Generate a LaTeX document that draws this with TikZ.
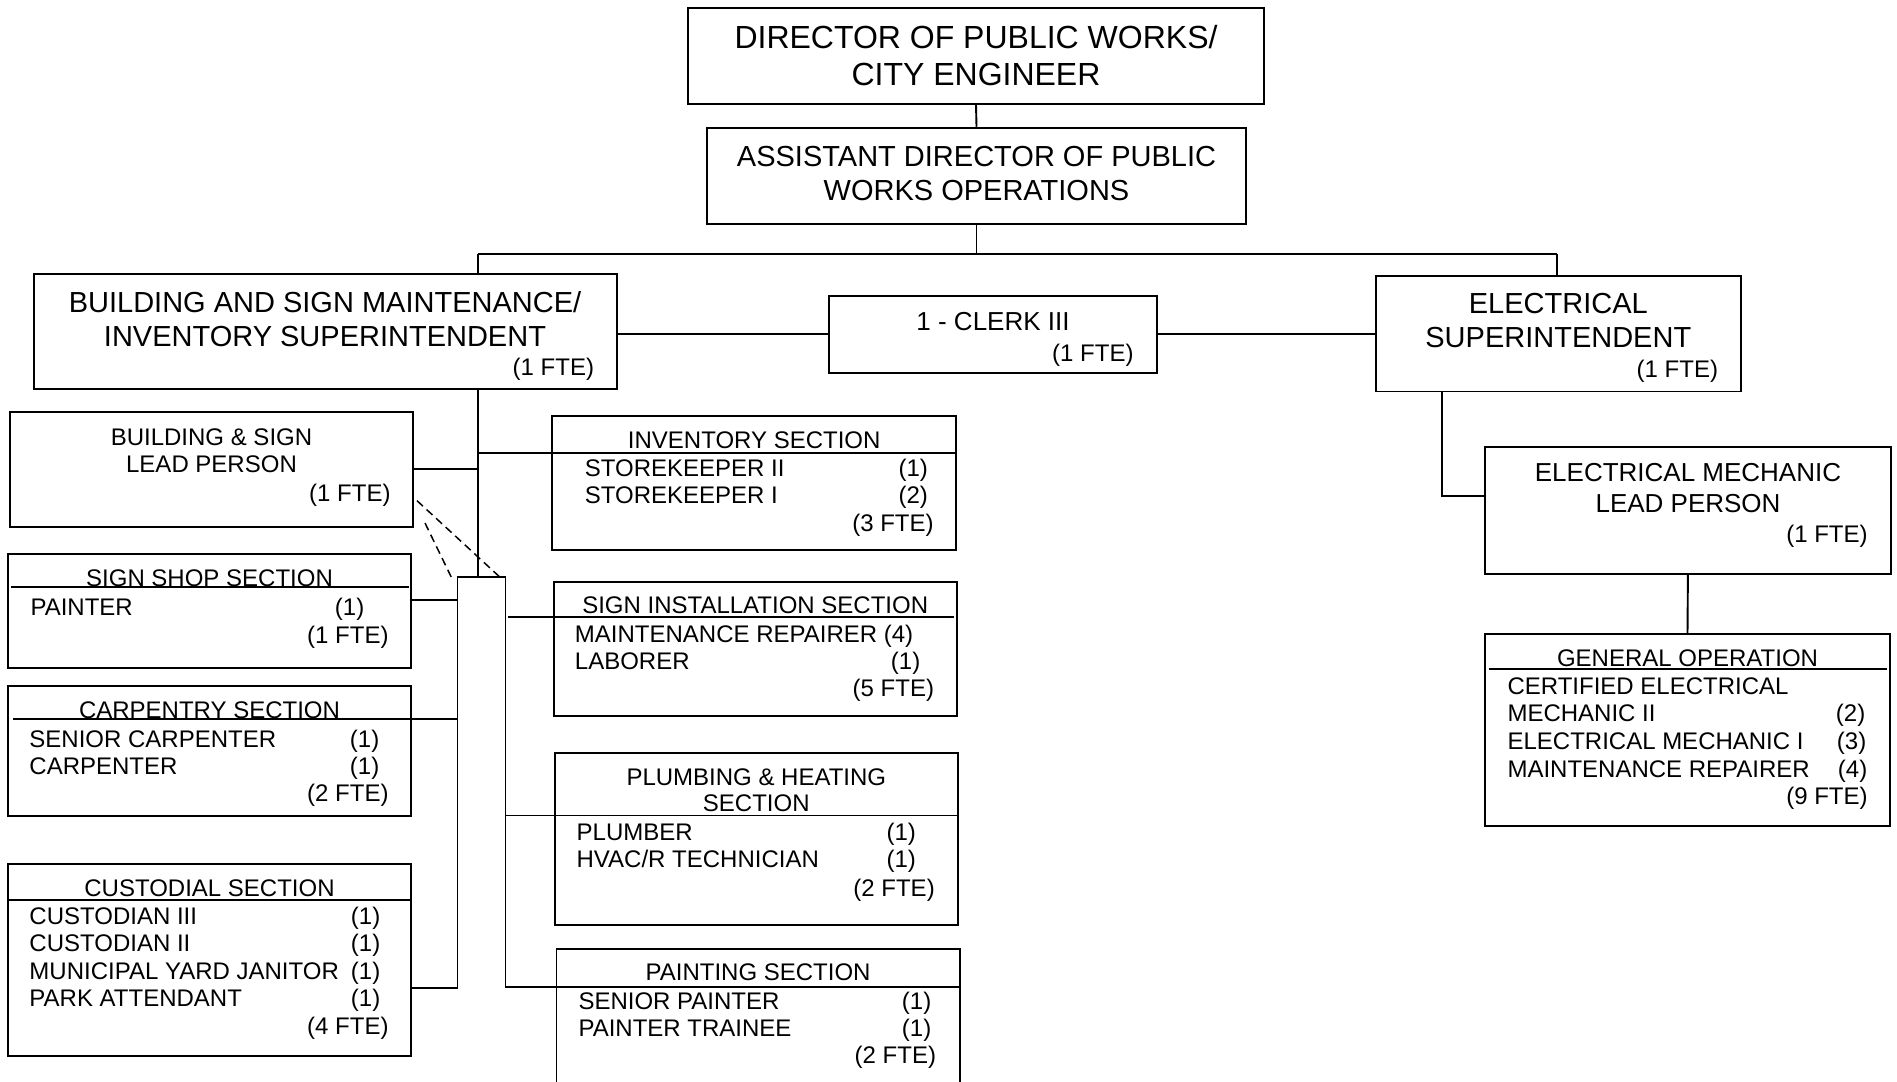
\documentclass[tikz,border=0pt]{standalone}
\usepackage{fontspec}
\setmainfont{Liberation Sans}
\usetikzlibrary{calc}

\begin{document}
\begin{tikzpicture}[x=1pt, y=-1pt, line width=1.9pt,
    post/.style={rectangle, draw, inner sep=0pt},
    txc/.style={inner sep=0pt, anchor=base},
    txl/.style={inner sep=0pt, anchor=base west},
    txr/.style={inner sep=0pt, anchor=base east},
    big/.style={font=\fontsize{32}{36}\selectfont},
    mid/.style={font=\fontsize{29}{34}\selectfont},
    lab/.style={font=\fontsize{26}{31}\selectfont},
    sml/.style={font=\fontsize{24}{28}\selectfont}]
    \useasboundingbox (0,0) rectangle (1897,1081);
    \fill[white] (0,0) rectangle (1897,1081);

    \node[post, minimum width=576.5pt, minimum height=95.4pt] (dir) at (976,56) {};
    \node[post, minimum width=538.2pt, minimum height=96pt] (asst) at (976.5,175.7) {};
    \node[post, minimum width=583.4pt, minimum height=114.7pt] (bsm) at (325.3,331.3) {};
    \node[post, minimum width=327.4pt, minimum height=77pt] (clerk) at (992.9,334.2) {};
    \node[post, minimum width=365pt, minimum height=115.2pt] (esup) at (1558.3,333.9) {};
    \node[post, minimum width=403pt, minimum height=115pt] (lead) at (211.5,469.5) {};
    \node[post, minimum width=403pt, minimum height=114pt] (shop) at (209.5,611) {};
    \node[post, minimum width=403pt, minimum height=130pt] (carp) at (209.5,750.7) {};
    \node[post, minimum width=403pt, minimum height=192pt] (cust) at (209.5,960) {};
    \node[post, minimum width=403.6pt, minimum height=134.3pt] (inv) at (754.2,482.9) {};
    \node[post, minimum width=403.3pt, minimum height=133.4pt] (inst) at (755.2,649) {};
    \node[post, minimum width=403.3pt, minimum height=172.3pt] (plumb) at (756.3,838.9) {};
    \node[post, minimum width=403.2pt, minimum height=170.7pt] (paint) at (758.1,1034.7) {};
    \node[post, minimum width=405.8pt, minimum height=126.7pt] (elead) at (1687.9,510.4) {};
    \node[post, minimum width=405pt, minimum height=192pt] (genop) at (1687.5,730) {};

    \node[txc, big] (dir-1) at (976,48.3) {DIRECTOR OF PUBLIC WORKS/};
    \node[txc, big] (dir-2) at (976,85) {CITY ENGINEER};
    \node[txc, mid] (asst-1) at (976.5,166) {ASSISTANT DIRECTOR OF PUBLIC};
    \node[txc, mid] (asst-2) at (976.5,200) {WORKS OPERATIONS};

    \node[txc, mid] (bsm-1) at (325,312) {BUILDING AND SIGN MAINTENANCE/};
    \node[txc, mid] (bsm-2) at (325,346) {INVENTORY SUPERINTENDENT};
    \node[txr, sml] (bsm-n) at (595,375) {(1 FTE)};
    \node[txc, lab] (clerk-1) at (993,330) {1 - CLERK III};
    \node[txr, sml] (clerk-n) at (1134.5,361.7) {(1 FTE)};
    \node[txc, mid] (esup-1) at (1558.3,313.7) {ELECTRICAL};
    \node[txc, mid] (esup-2) at (1558.3,347.8) {SUPERINTENDENT};
    \node[txr, sml] (esup-n) at (1719,377.8) {(1 FTE)};

    \node[txc, sml] (lead-1) at (211.5,445) {BUILDING \& SIGN};
    \node[txc, sml] (lead-2) at (211.5,472.7) {LEAD PERSON};
    \node[txr, sml] (lead-n) at (391.5,501.7) {(1 FTE)};
    \node[txc, lab] (elead-1) at (1688,481.5) {ELECTRICAL MECHANIC};
    \node[txc, lab] (elead-2) at (1688,512.6) {LEAD PERSON};
    \node[txr, sml] (elead-n) at (1868.6,542.2) {(1 FTE)};

    \node[txc, sml] (shop-h) at (209.5,586.7) {SIGN SHOP SECTION};
    \node[txl, sml] (shop-1) at (29.6,615) {PAINTER};
    \node[txl, sml] (shop-1c) at (334,615) {(1)};
    \node[txr, sml] (shop-n) at (389.5,643) {(1 FTE)};

    \node[txc, sml] (carp-h) at (209.5,718.3) {CARPENTRY SECTION};
    \node[txl, sml] (carp-1) at (28.5,747) {SENIOR CARPENTER};
    \node[txl, sml] (carp-1c) at (349,747) {(1)};
    \node[txl, sml] (carp-2) at (28.5,774) {CARPENTER};
    \node[txl, sml] (carp-2c) at (349,774) {(1)};
    \node[txr, sml] (carp-n) at (389.5,801.7) {(2 FTE)};

    \node[txc, sml] (cust-h) at (209.5,896) {CUSTODIAL SECTION};
    \node[txl, sml] (cust-1) at (28.5,924) {CUSTODIAN III};
    \node[txl, sml] (cust-1c) at (350,924) {(1)};
    \node[txl, sml] (cust-2) at (28.5,951.7) {CUSTODIAN II};
    \node[txl, sml] (cust-2c) at (350,951.7) {(1)};
    \node[txl, sml] (cust-3) at (28.5,979) {MUNICIPAL YARD JANITOR};
    \node[txl, sml] (cust-3c) at (350,979) {(1)};
    \node[txl, sml] (cust-4) at (28.5,1006.7) {PARK ATTENDANT};
    \node[txl, sml] (cust-4c) at (350,1006.7) {(1)};
    \node[txr, sml] (cust-n) at (389.5,1034) {(4 FTE)};

    \node[txc, sml] (inv-h) at (754.2,448.3) {INVENTORY SECTION};
    \node[txl, sml] (inv-1) at (584,476) {STOREKEEPER II};
    \node[txl, sml] (inv-1c) at (897.6,476) {(1)};
    \node[txl, sml] (inv-2) at (584,503.3) {STOREKEEPER I};
    \node[txl, sml] (inv-2c) at (897.6,503.3) {(2)};
    \node[txr, sml] (inv-n) at (934.6,531.7) {(3 FTE)};

    \node[txc, sml] (inst-h) at (755.2,613.3) {SIGN INSTALLATION SECTION};
    \node[txl, sml] (inst-1) at (574,642.3) {MAINTENANCE REPAIRER (4)};
    \node[txl, sml] (inst-2) at (574,669.3) {LABORER};
    \node[txl, sml] (inst-2c) at (890,669.3) {(1)};
    \node[txr, sml] (inst-n) at (935,696.7) {(5 FTE)};

    \node[txc, sml] (plumb-h1) at (756.3,785) {PLUMBING \& HEATING};
    \node[txc, sml] (plumb-h2) at (756.3,811.7) {SECTION};
    \node[txl, sml] (plumb-1) at (575.7,840) {PLUMBER};
    \node[txl, sml] (plumb-1c) at (885.7,840) {(1)};
    \node[txl, sml] (plumb-2) at (575.7,867.3) {HVAC/R TECHNICIAN};
    \node[txl, sml] (plumb-2c) at (885.7,867.3) {(1)};
    \node[txr, sml] (plumb-n) at (935.7,896.7) {(2 FTE)};

    \node[txc, sml] (paint-h) at (758.1,980.7) {PAINTING SECTION};
    \node[txl, sml] (paint-1) at (577.6,1009.3) {SENIOR PAINTER};
    \node[txl, sml] (paint-1c) at (901,1009.3) {(1)};
    \node[txl, sml] (paint-2) at (577.6,1036) {PAINTER TRAINEE};
    \node[txl, sml] (paint-2c) at (901,1036) {(1)};
    \node[txr, sml] (paint-n) at (937,1063.3) {(2 FTE)};

    \node[txc, sml] (genop-h) at (1687.5,666.7) {GENERAL OPERATION};
    \node[txl, sml] (genop-1) at (1506.6,694) {CERTIFIED ELECTRICAL};
    \node[txl, sml] (genop-2) at (1506.6,721.7) {MECHANIC II};
    \node[txl, sml] (genop-2c) at (1835,721.7) {(2)};
    \node[txl, sml] (genop-3) at (1506.6,749.4) {ELECTRICAL MECHANIC I};
    \node[txl, sml] (genop-3c) at (1836,749.4) {(3)};
    \node[txl, sml] (genop-4) at (1506.6,777.1) {MAINTENANCE REPAIRER};
    \node[txl, sml] (genop-4c) at (1837,777.1) {(4)};
    \node[txr, sml] (genop-n) at (1868.6,804.8) {(9 FTE)};

    \coordinate (busL) at (478,254);
    \coordinate (busR) at (1557,254);
    \coordinate (brk) at (478,577.3);
    \coordinate (brkL) at (457.5,577.3);
    \coordinate (brkR) at (505.5,577.3);
    \coordinate (jLead) at (478,469.3);
    \coordinate (jInv) at (478,452.7);
    \coordinate (jShop) at (457.5,600);
    \coordinate (jCarp) at (457.5,719.3);
    \coordinate (jCust) at (457.5,987.7);
    \coordinate (jInst) at (508,616.7);
    \coordinate (jPlumb) at (505.5,815.5);
    \coordinate (jPaint) at (505.5,987.3);
    \coordinate (jEl) at (1442,496);
    \coordinate (d1a) at (417,500.7);
    \coordinate (d1b) at (503,580);
    \coordinate (d2a) at (425,523);
    \coordinate (d2b) at (452.7,580);

    \draw (dir.south) -- (asst.north);
    \draw (asst.south) -- (asst.south |- busL);
    \draw (busL) -- (busR);
    \draw (busL) -- (busL |- bsm.north);
    \draw (busR) -- (busR |- esup.north);
    \draw (bsm.east |- clerk.west) -- (clerk.west);
    \draw (clerk.east) -- (esup.west |- clerk.east);
    \draw (busL |- bsm.south) -- (brk);
    \draw (lead.east |- jLead) -- (jLead);
    \draw (jInv) -- (inv.east |- jInv);
    \draw (shop.east |- jShop) -- (jShop);
    \draw ([xshift=6pt]carp.west |- jCarp) -- (jCarp);
    \draw (cust.east |- jCust) -- (jCust) -- (brkL) -- (brkR) -- (jPaint) -- (paint.east |- jPaint);
    \draw (jInst) -- ([xshift=-4pt]inst.east |- jInst);
    \draw (brkR |- jPlumb) -- (plumb.east |- jPlumb);
    \draw (esup.south -| jEl) -- (jEl) -- (elead.west |- jEl);
    \draw (elead.south) -- (genop.north);
    \draw[line width=1.5pt, dash pattern=on 8pt off 5pt] (d1a) -- (d1b) (d2a) -- (d2b);

    \draw ([shift={(4pt,-33.7pt)}]shop.north west) -- ([shift={(-2.5pt,-33.7pt)}]shop.north east);
    \draw ([yshift=-37pt]cust.north west) -- ([yshift=-37pt]cust.north east);
    \draw ([shift={(4.5pt,-36pt)}]genop.north west) -- ([shift={(-4.3pt,-36pt)}]genop.north east);
\end{tikzpicture}
\end{document}
